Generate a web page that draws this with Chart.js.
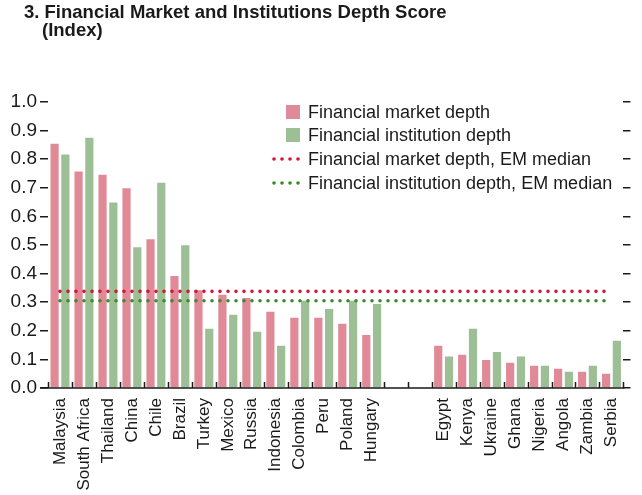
<!DOCTYPE html>
<html lang="en">
<head>
  <meta charset="UTF-8">
  <title>Financial Market and Institutions Depth Score</title>
  <script src="https://cdn.jsdelivr.net/npm/chart.js"></script>
  <style>
    body { margin: 0; padding: 0; background: #fff; font-family: 'Liberation Sans Narrow', 'Arial Narrow', sans-serif; color: #1a1a1a; }
    .wrap { position: relative; width: 642px; height: 495px; }
    .title { position: absolute; left: 24px; top: 3px; font-weight: bold; font-size: 18.5px; line-height: 18px; }
    .title .sub { padding-left: 18px; }
    canvas { position: absolute; left: 0; top: 0; }
  </style>
</head>
<body>
  <div class="wrap">
    <canvas id="depthChart" width="642" height="495"></canvas>
    <div class="title">3. Financial Market and Institutions Depth Score<br><span class="sub">(Index)</span></div>
  </div>

  <script>
    // two blank slots separate the two country groups
    const countries = ['Malaysia', 'South Africa', 'Thailand', 'China', 'Chile', 'Brazil', 'Turkey', 'Mexico',
      'Russia', 'Indonesia', 'Colombia', 'Peru', 'Poland', 'Hungary', ' ', '  ',
      'Egypt', 'Kenya', 'Ukraine', 'Ghana', 'Nigeria', 'Angola', 'Zambia', 'Serbia'];

    const marketDepth = [0.854, 0.757, 0.746, 0.698, 0.520, 0.392, 0.342, 0.326, 0.315, 0.267, 0.246, 0.246, 0.225, 0.185,
      null, null, 0.148, 0.116, 0.098, 0.088, 0.078, 0.067, 0.057, 0.050];
    const institutionDepth = [0.816, 0.875, 0.649, 0.492, 0.718, 0.499, 0.207, 0.256, 0.197, 0.148, 0.305, 0.276, 0.305, 0.294,
      null, null, 0.110, 0.207, 0.126, 0.110, 0.078, 0.057, 0.078, 0.165];

    const marketMedian = 0.338;
    const institutionMedian = 0.305;

    const yTicks = [0, 0.1, 0.2, 0.3, 0.4, 0.5, 0.6, 0.7, 0.8, 0.9, 1.0];

    const FONT = "'Liberation Sans Narrow', 'Arial Narrow', sans-serif";
    const PINK = '#e08a98', GREEN = '#9dbf96', RED = '#d2143a', DKGREEN = '#3a8a2e';

    const first = countries[0], last = countries[countries.length - 1];

    // custom legend drawn inside the plot, plus inward x ticks and the base line
    const extras = {
      id: 'extras',
      afterDraw(chart) {
        const ctx = chart.ctx;
        const x = chart.scales.x, area = chart.chartArea;
        const step = x.getPixelForValue(1) - x.getPixelForValue(0);
        ctx.save();
        ctx.strokeStyle = '#1a1a1a';
        ctx.lineWidth = 1.5;
        ctx.beginPath();
        ctx.moveTo(area.left - 8, area.bottom);
        ctx.lineTo(area.right + 1, area.bottom);
        for (let i = 0; i <= countries.length; i++) {
          const px = Math.round(x.getPixelForValue(0) - step / 2 + i * step) + 0.5;
          ctx.moveTo(px, area.bottom);
          ctx.lineTo(px, area.bottom - 6);
        }
        ctx.stroke();

        const rows = [112, 135, 159, 183];
        ctx.font = '18px ' + FONT;
        ctx.textBaseline = 'middle';
        ctx.fillStyle = '#1a1a1a';
        chart.data.datasets.forEach((ds, i) => {
          const cy = rows[i];
          if (ds.type === 'line') {
            ctx.fillStyle = ds.borderColor;
            for (let k = 0; k < 4; k++) {
              ctx.beginPath();
              ctx.arc(274 + k * 8, cy, 1.8, 0, Math.PI * 2);
              ctx.fill();
            }
          } else {
            ctx.fillStyle = ds.backgroundColor;
            ctx.fillRect(286, cy - 7, 14, 14);
          }
          ctx.fillStyle = '#1a1a1a';
          ctx.fillText(ds.label, 308, cy + 1);
        });
        ctx.restore();
      }
    };

    new Chart(document.getElementById('depthChart'), {
      data: {
        labels: countries,
        datasets: [
          { type: 'bar', label: 'Financial market depth', data: marketDepth, backgroundColor: PINK,
            categoryPercentage: 0.9, barPercentage: 0.76, order: 2 },
          { type: 'bar', label: 'Financial institution depth', data: institutionDepth, backgroundColor: GREEN,
            categoryPercentage: 0.9, barPercentage: 0.76, order: 2 },
          { type: 'line', label: 'Financial market depth, EM median',
            data: [{ x: first, y: marketMedian }, { x: last, y: marketMedian }],
            borderColor: RED, borderWidth: 3.6, borderDash: [0, 8], borderCapStyle: 'round',
            pointRadius: 0, fill: false, order: 1 },
          { type: 'line', label: 'Financial institution depth, EM median',
            data: [{ x: first, y: institutionMedian }, { x: last, y: institutionMedian }],
            borderColor: DKGREEN, borderWidth: 3.6, borderDash: [0, 8], borderCapStyle: 'round',
            pointRadius: 0, fill: false, order: 1 }
        ]
      },
      options: {
        responsive: false,
        animation: false,
        layout: { padding: { top: 102, right: 0, bottom: 0, left: 0 } },
        plugins: {
          legend: { display: false },
          title: { display: false },
          tooltip: { enabled: false }
        },
        scales: {
          x: {
            offset: true,
            grid: { display: false, drawTicks: false },
            border: { display: false },
            ticks: { autoSkip: false, minRotation: 90, maxRotation: 90, padding: 10,
              color: '#1a1a1a', font: { family: FONT, size: 17 } },
            afterFit: s => { s.height = 107; }
          },
          y: {
            min: 0, max: 1,
            afterBuildTicks: s => { s.ticks = yTicks.map(v => ({ value: v })); },
            grid: { drawOnChartArea: false, drawTicks: true, tickLength: 8, color: '#1a1a1a', lineWidth: 1.5 },
            border: { display: false },
            ticks: { padding: 3, color: '#1a1a1a', font: { family: FONT, size: 19 },
              callback: v => v.toFixed(1) },
            afterFit: s => { s.width = 48; }
          },
          y2: {
            position: 'right',
            min: 0, max: 1,
            afterBuildTicks: s => { s.ticks = yTicks.map(v => ({ value: v })); },
            grid: { drawOnChartArea: false, drawTicks: true, tickLength: 7, color: '#1a1a1a', lineWidth: 1.5 },
            border: { display: false },
            ticks: { display: false }
          }
        }
      },
      plugins: [extras]
    });
  </script>
</body>
</html>
